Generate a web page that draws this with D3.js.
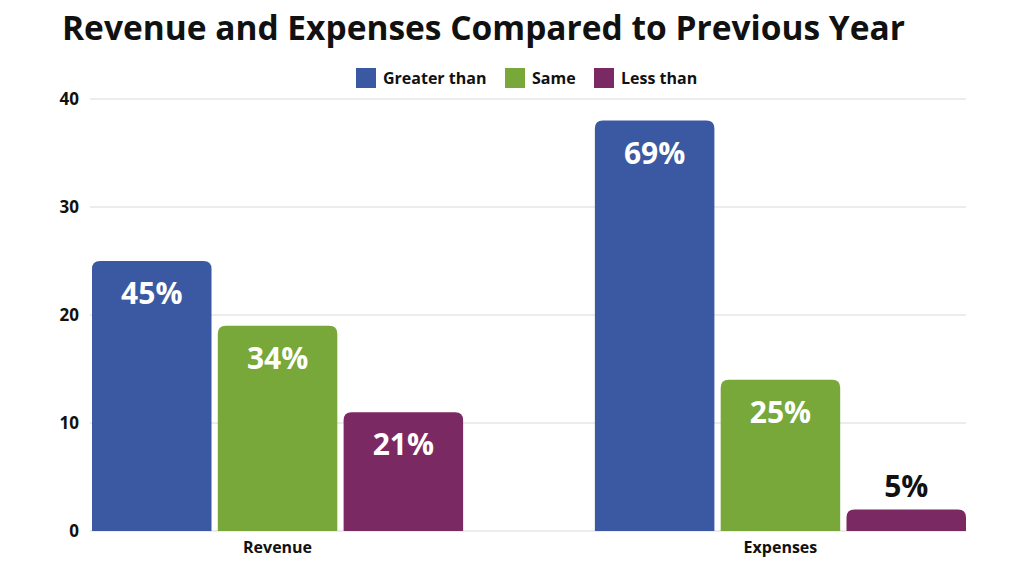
<!DOCTYPE html>
<html>
<head>
<meta charset="utf-8">
<script src="https://cdn.jsdelivr.net/npm/d3@7"></script>
<style>
  html, body { margin: 0; padding: 0; background: #fff; }
  svg { display: block; font-family: "Open Sans", Lato, sans-serif; }
</style>
</head>
<body>
<div id="container"></div>
<script>
const width = 1024, height = 576;
const margin = { top: 99, right: 58, bottom: 45, left: 92 };
const iw = width - margin.left - margin.right;
const ih = height - margin.top - margin.bottom;

// --- Data ---
const categories = ["Revenue", "Expenses"];
const seriesNames = ["Greater than", "Same", "Less than"];
const seriesColors = ["#3a59a2", "#78a73a", "#7b2962"];
const greaterValues = [25, 38];
const sameValues = [19, 14];
const lessValues = [11, 2];
const greaterLabels = ["45%", "69%"];
const sameLabels = ["34%", "25%"];
const lessLabels = ["21%", "5%"];
const yTicks = [0, 10, 20, 30, 40];

const seriesValues = [greaterValues, sameValues, lessValues];
const seriesLabels = [greaterLabels, sameLabels, lessLabels];
const rows = [];
categories.forEach((c, ci) => {
  seriesNames.forEach((s, si) => {
    rows.push({ cat: c, series: s, si, value: seriesValues[si][ci], label: seriesLabels[si][ci] });
  });
});

// shrink/grow a text's font size so it spans the wanted width
function fitWidth(sel, target) {
  const node = sel.node();
  const w = node.getComputedTextLength();
  const fs = parseFloat(sel.style("font-size"));
  if (w > 0) sel.style("font-size", (fs * target / w).toFixed(2) + "px");
}

const svg = d3.select("#container").append("svg")
  .attr("width", width).attr("height", height);
const g = svg.append("g").attr("transform", `translate(${margin.left},${margin.top})`);

// --- Scales ---
const x0 = d3.scaleBand().domain(categories).range([0, iw]).paddingInner(0.262).paddingOuter(0);
const x1 = d3.scaleBand().domain(seriesNames).range([0, x0.bandwidth()]).paddingInner(0.05).paddingOuter(0);
const y = d3.scaleLinear().domain([0, 40]).range([ih, 0]);

// --- Grid ---
g.append("g")
  .selectAll("line").data(yTicks).join("line")
  .attr("x1", -2).attr("x2", iw)
  .attr("y1", (d) => y(d)).attr("y2", (d) => y(d))
  .attr("stroke", "#d9d9d9").attr("stroke-width", 1);

// --- Y axis labels ---
const yAxis = g.append("g")
  .attr("transform", "translate(-13,0)")
  .call(d3.axisLeft(y).tickValues(yTicks).tickSize(0).tickPadding(0));
yAxis.select(".domain").remove();
yAxis.selectAll("text")
  .attr("fill", "#111").style("font-size", "17px").style("font-weight", "700")
  .style("font-family", "'Open Sans', sans-serif");

// --- Bars (rounded top corners) ---
const r = 8;
function topRounded(xp, yp, w, h) {
  const rr = Math.min(r, h, w / 2);
  return `M${xp},${yp + h}V${yp + rr}Q${xp},${yp} ${xp + rr},${yp}` +
    `H${xp + w - rr}Q${xp + w},${yp} ${xp + w},${yp + rr}V${yp + h}Z`;
}
g.selectAll(".bar").data(rows).join("path")
  .attr("class", "bar")
  .attr("fill", (d) => seriesColors[d.si])
  .attr("d", (d) => {
    const bx = x0(d.cat) + x1(d.series);
    const by = y(d.value);
    return topRounded(bx, by, x1.bandwidth(), ih - by);
  });

// --- Value labels ---
g.selectAll(".vlabel").data(rows).join("text")
  .attr("class", "vlabel")
  .attr("x", (d) => x0(d.cat) + x1(d.series) + x1.bandwidth() / 2)
  .attr("y", (d) => {
    const by = y(d.value);
    return (ih - by) > 50 ? by + 43 : by - 12;
  })
  .attr("text-anchor", "middle")
  .attr("fill", (d) => (ih - y(d.value)) > 50 ? "#fff" : "#111")
  .style("font-size", "30px").style("font-weight", "700")
  .text((d) => d.label);

// --- Category labels ---
g.selectAll(".clabel").data(categories).join("text")
  .attr("class", "clabel")
  .attr("x", (d) => x0(d) + x0.bandwidth() / 2)
  .attr("y", ih + 22)
  .attr("text-anchor", "middle")
  .attr("fill", "#111")
  .style("font-size", "16px").style("font-weight", "700")
  .text((d) => d);

// --- Legend ---
const legendX = [356, 505, 594];
const legend = svg.append("g");
seriesNames.forEach((s, i) => {
  legend.append("rect")
    .attr("x", legendX[i]).attr("y", 68)
    .attr("width", 20).attr("height", 20)
    .attr("fill", seriesColors[i]);
});
seriesNames.forEach((s, i) => {
  legend.append("text")
    .attr("x", legendX[i] + 27).attr("y", 84)
    .attr("fill", "#111")
    .style("font-size", "16px").style("font-weight", "700")
    .text(s);
});

// --- Title ---
const title = svg.append("text")
  .attr("x", 62).attr("y", 40)
  .attr("fill", "#111")
  .style("font-size", "32px").style("font-weight", "700")
  .text("Revenue and Expenses Compared to Previous Year");
fitWidth(title, 843);
</script>
</body>
</html>
